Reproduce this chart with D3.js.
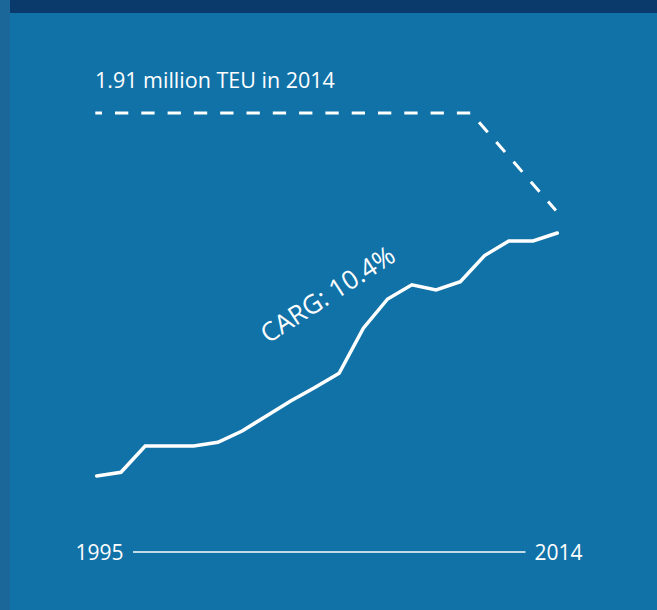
<!DOCTYPE html>
<html>
<head>
<meta charset="utf-8">
<script src="https://cdn.jsdelivr.net/npm/d3@7"></script>
<style>
  html, body { margin: 0; padding: 0; background: #1172a7; }
  svg { display: block; }
  text { font-family: "Open Sans", "Noto Sans", sans-serif; fill: #ffffff; }
</style>
</head>
<body>
<svg id="chart" width="657" height="610"></svg>
<script>
// ---- Data (million TEU) ----
const years = [1995, 1996, 1997, 1998, 1999, 2000, 2001, 2002, 2003, 2004,
               2005, 2006, 2007, 2008, 2009, 2010, 2011, 2012, 2013, 2014];
const volumes = [0.29, 0.315, 0.49, 0.49, 0.49, 0.515, 0.59, 0.69, 0.79, 0.88,
                 0.975, 1.275, 1.47, 1.565, 1.53, 1.585, 1.76, 1.857, 1.857, 1.91];
// dashed guide line
const guideYears = [1995, 2010.5, 2014];
const guideValues = [2.71, 2.71, 2.06];
const axisLabels = ["1995", "2014"];
const titleText = "1.91 million TEU in 2014";
const cagrText = "CARG: 10.4%";

const svg = d3.select("#chart");
const W = 657, H = 610;

// background panels
svg.append("rect").attr("x", 0).attr("y", 0).attr("width", W).attr("height", H).attr("fill", "#1172a7");
svg.append("rect").attr("x", 10).attr("y", 0).attr("width", W - 10).attr("height", 13).attr("fill", "#0a3a6b");
svg.append("rect").attr("x", 0).attr("y", 0).attr("width", 10).attr("height", H).attr("fill", "#1b679a");

// scales
const x = d3.scaleLinear().domain([1995, 2014]).range([96.7, 557.3]);
const y = d3.scaleLinear().domain([0, 3]).range([519.5, 69.5]);

// dashed guide
const guide = guideYears.map((yr, i) => ({ yr, v: guideValues[i] }));
svg.append("path")
  .datum(guide)
  .attr("d", d3.line().x(d => x(d.yr)).y(d => y(d.v)))
  .attr("fill", "none")
  .attr("stroke", "#ffffff")
  .attr("stroke-width", 3)
  .attr("stroke-dasharray", "13.3 13")
  .attr("stroke-dashoffset", 6.6)
  .attr("transform", "translate(-1.4,0)");

// solid line
const series = years.map((yr, i) => ({ yr, v: volumes[i] }));
svg.append("path")
  .datum(series)
  .attr("d", d3.line().x(d => x(d.yr)).y(d => y(d.v)))
  .attr("fill", "none")
  .attr("stroke", "#ffffff")
  .attr("stroke-width", 3.5)
  .attr("stroke-linejoin", "miter")
  .attr("stroke-linecap", "round");

// title
svg.append("text")
  .attr("x", 95)
  .attr("y", 88)
  .attr("font-size", 21.5)
  .text(titleText);

// CAGR label
svg.append("text")
  .attr("transform", "translate(268,344) rotate(-33)")
  .attr("font-size", 26)
  .text(cagrText);

// axis
svg.append("line")
  .attr("x1", 133).attr("x2", 525.5)
  .attr("y1", 552).attr("y2", 552)
  .attr("stroke", "#ffffff")
  .attr("stroke-width", 1.6);

svg.append("text")
  .attr("x", 75.5).attr("y", 559.5)
  .attr("font-size", 21)
  .text(axisLabels[0]);
svg.append("text")
  .attr("x", 582.5).attr("y", 559.5)
  .attr("text-anchor", "end")
  .attr("font-size", 21)
  .text(axisLabels[1]);
</script>
</body>
</html>
